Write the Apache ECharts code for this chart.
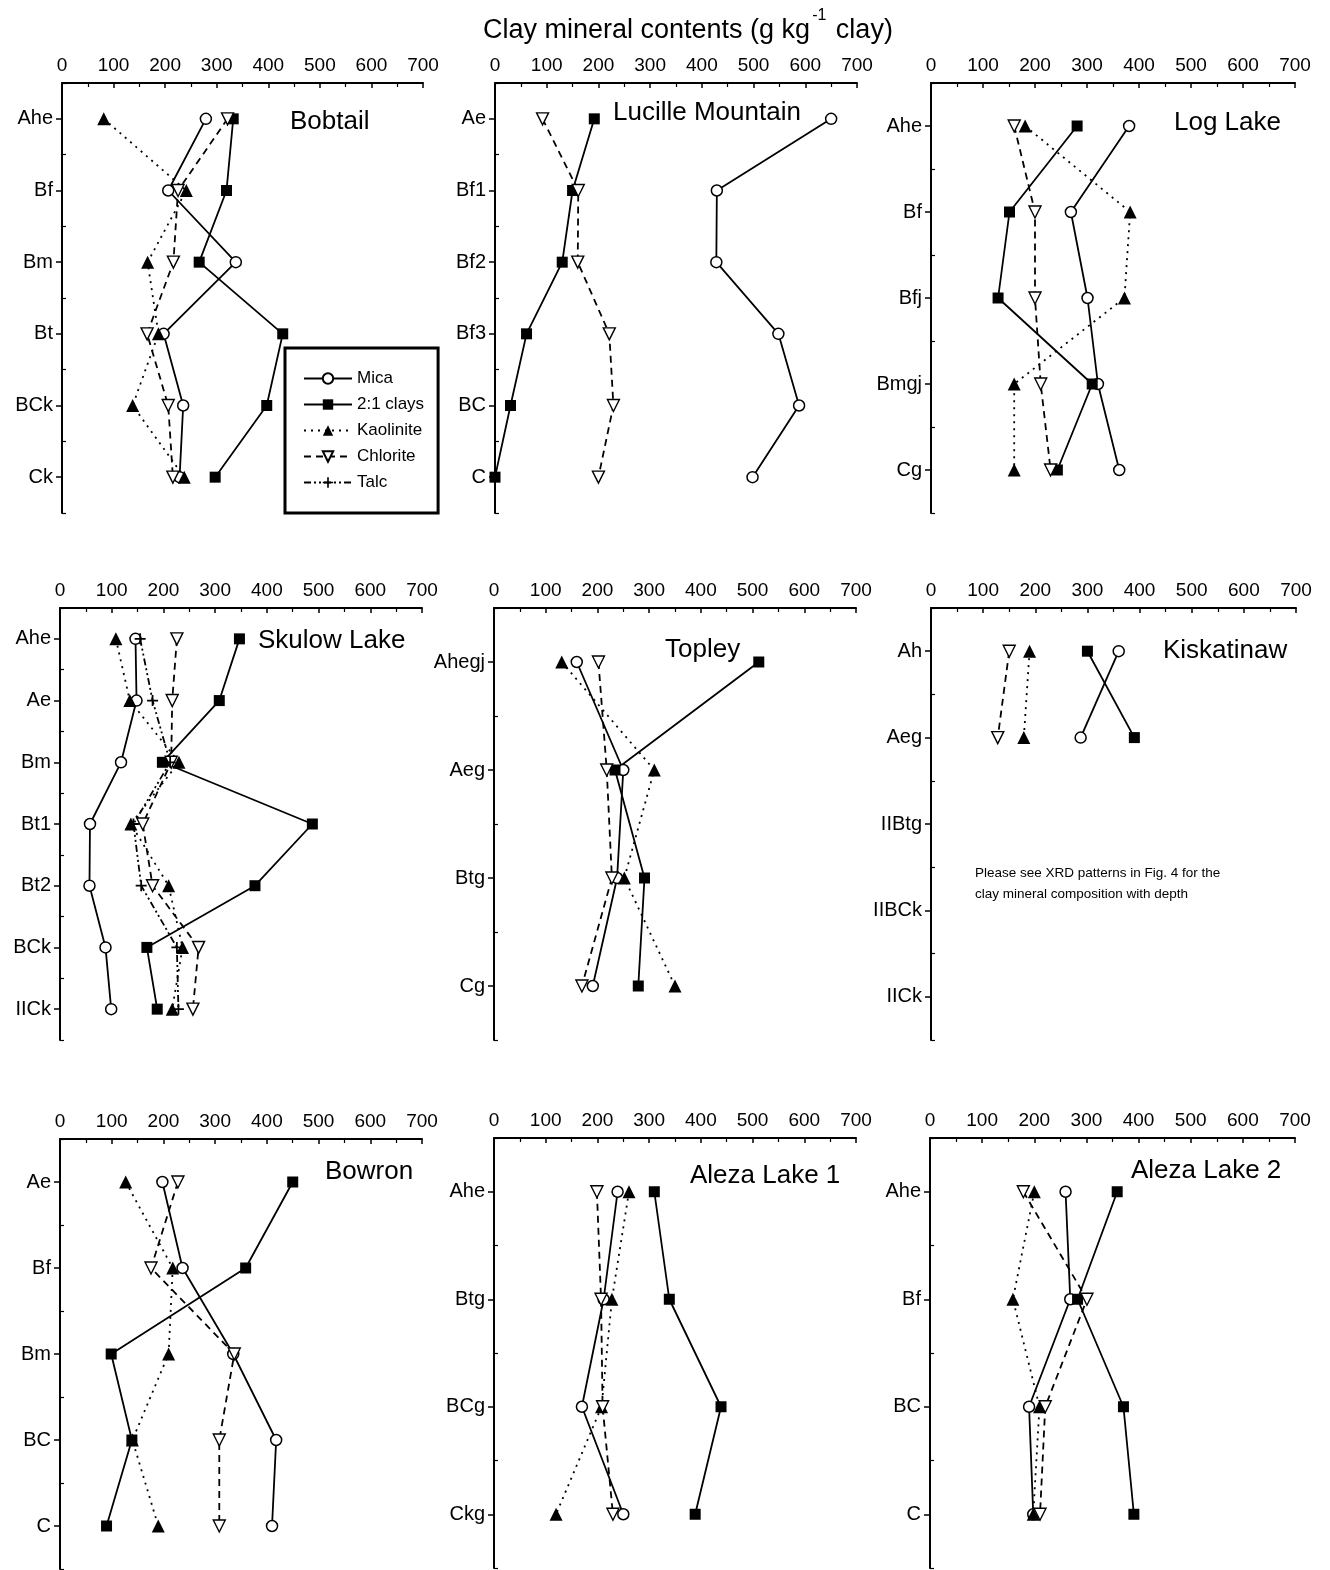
<!DOCTYPE html>
<html>
<head>
<meta charset="utf-8">
<script src="https://cdn.jsdelivr.net/npm/echarts@6/dist/echarts.min.js"></script>
<style>html,body{margin:0;padding:0;background:#fff}#c{width:1330px;height:1570px}</style>
</head>
<body>
<div id="c"></div>
<script>
// ---------- DATA ----------
const mineralNames = ['Mica', '2:1 clays', 'Kaolinite', 'Chlorite', 'Talc'];

const bobtailHorizons = ['Ahe', 'Bf', 'Bm', 'Bt', 'BCk', 'Ck'];
const bobtailMica = [279, 206, 337, 197, 235, 228];
const bobtailClay21 = [332, 319, 266, 428, 397, 297];
const bobtailKaolinite = [81, 241, 166, 187, 137, 237];
const bobtailChlorite = [321, 225, 216, 165, 206, 215];

const lucilleHorizons = ['Ae', 'Bf1', 'Bf2', 'Bf3', 'BC', 'C'];
const lucilleMica = [650, 429, 428, 548, 588, 498];
const lucilleClay21 = [192, 150, 130, 61, 30, 0];
const lucilleChlorite = [92, 161, 160, 221, 229, 200];

const logLakeHorizons = ['Ahe', 'Bf', 'Bfj', 'Bmgj', 'Cg'];
const logLakeMica = [381, 269, 301, 321, 362];
const logLakeClay21 = [281, 151, 129, 310, 243];
const logLakeKaolinite = [181, 383, 372, 160, 160];
const logLakeChlorite = [160, 200, 200, 211, 230];

const skulowHorizons = ['Ahe', 'Ae', 'Bm', 'Bt1', 'Bt2', 'BCk', 'IICk'];
const skulowMica = [146, 148, 118, 58, 57, 88, 99];
const skulowClay21 = [347, 308, 198, 488, 377, 168, 188];
const skulowKaolinite = [108, 135, 230, 137, 210, 237, 217];
const skulowChlorite = [226, 217, 215, 160, 179, 268, 257];
const skulowTalc = [155, 179, 213, 142, 157, 226, 229];

const topleyHorizons = ['Ahegj', 'Aeg', 'Btg', 'Cg'];
const topleyMica = [160, 250, 238, 191];
const topleyClay21 = [512, 234, 291, 279];
const topleyKaolinite = [131, 310, 252, 350];
const topleyChlorite = [202, 218, 228, 170];

const kiskHorizons = ['Ah', 'Aeg', 'IIBtg', 'IIBCk', 'IICk'];
const kiskMica = [360, 287, null, null, null];
const kiskClay21 = [300, 390, null, null, null];
const kiskKaolinite = [189, 178, null, null, null];
const kiskChlorite = [150, 128, null, null, null];

const bowronHorizons = ['Ae', 'Bf', 'Bm', 'BC', 'C'];
const bowronMica = [198, 237, 335, 418, 410];
const bowronClay21 = [450, 359, 99, 139, 90];
const bowronKaolinite = [127, 218, 210, 140, 190];
const bowronChlorite = [228, 176, 337, 308, 308];

const aleza1Horizons = ['Ahe', 'Btg', 'BCg', 'Ckg'];
const aleza1Mica = [239, 212, 170, 250];
const aleza1Clay21 = [310, 339, 439, 389];
const aleza1Kaolinite = [261, 228, 208, 120];
const aleza1Chlorite = [199, 207, 210, 230];

const aleza2Horizons = ['Ahe', 'Bf', 'BC', 'C'];
const aleza2Mica = [260, 269, 190, 198];
const aleza2Clay21 = [359, 283, 371, 391];
const aleza2Kaolinite = [200, 159, 210, 198];
const aleza2Chlorite = [179, 301, 221, 211];

const xMin = 0, xMax = 700, xStep = 100;

// ---------- LAYOUT ----------
const FONT = "'Liberation Sans', Arial, Helvetica, sans-serif";
const panels = [
  {title: 'Bobtail', cats: bobtailHorizons, grid: {left: 62, width: 361, top: 83, height: 430}, tx: 290, ty: 122,
   series: {'Mica': bobtailMica, '2:1 clays': bobtailClay21, 'Kaolinite': bobtailKaolinite, 'Chlorite': bobtailChlorite}},
  {title: 'Lucille Mountain', cats: lucilleHorizons, grid: {left: 495, width: 362, top: 83, height: 430}, tx: 613, ty: 113,
   series: {'Mica': lucilleMica, '2:1 clays': lucilleClay21, 'Chlorite': lucilleChlorite}},
  {title: 'Log Lake', cats: logLakeHorizons, grid: {left: 931, width: 364, top: 83, height: 430}, tx: 1174, ty: 123,
   series: {'Mica': logLakeMica, '2:1 clays': logLakeClay21, 'Kaolinite': logLakeKaolinite, 'Chlorite': logLakeChlorite}},
  {title: 'Skulow Lake', cats: skulowHorizons, grid: {left: 60, width: 362, top: 608, height: 432}, tx: 258, ty: 641,
   series: {'Mica': skulowMica, '2:1 clays': skulowClay21, 'Kaolinite': skulowKaolinite, 'Chlorite': skulowChlorite, 'Talc': skulowTalc}},
  {title: 'Topley', cats: topleyHorizons, grid: {left: 494, width: 362, top: 608, height: 432}, tx: 665, ty: 650,
   series: {'Mica': topleyMica, '2:1 clays': topleyClay21, 'Kaolinite': topleyKaolinite, 'Chlorite': topleyChlorite}},
  {title: 'Kiskatinaw', cats: kiskHorizons, grid: {left: 931, width: 365, top: 608, height: 432}, tx: 1163, ty: 651,
   series: {'Mica': kiskMica, '2:1 clays': kiskClay21, 'Kaolinite': kiskKaolinite, 'Chlorite': kiskChlorite}},
  {title: 'Bowron', cats: bowronHorizons, grid: {left: 60, width: 362, top: 1139, height: 430}, tx: 325, ty: 1172,
   series: {'Mica': bowronMica, '2:1 clays': bowronClay21, 'Kaolinite': bowronKaolinite, 'Chlorite': bowronChlorite}},
  {title: 'Aleza Lake 1', cats: aleza1Horizons, grid: {left: 494, width: 362, top: 1138, height: 430}, tx: 690, ty: 1176,
   series: {'Mica': aleza1Mica, '2:1 clays': aleza1Clay21, 'Kaolinite': aleza1Kaolinite, 'Chlorite': aleza1Chlorite}},
  {title: 'Aleza Lake 2', cats: aleza2Horizons, grid: {left: 930, width: 365, top: 1138, height: 430}, tx: 1131, ty: 1171,
   series: {'Mica': aleza2Mica, '2:1 clays': aleza2Clay21, 'Kaolinite': aleza2Kaolinite, 'Chlorite': aleza2Chlorite}}
];

const plusPath = 'path://M4.2,0h1.6v4.2h4.2v1.6h-4.2v4.2h-1.6v-4.2h-4.2v-1.6h4.2z';
const styles = {
  'Mica': {symbol: 'circle', symbolSize: 11, line: {type: 'solid'}, item: {color: '#fff', borderColor: '#000', borderWidth: 1.5}},
  '2:1 clays': {symbol: 'rect', symbolSize: 11, line: {type: 'solid'}, item: {color: '#000', borderColor: '#000', borderWidth: 0}},
  'Kaolinite': {symbol: 'triangle', symbolSize: 13, line: {type: [2, 5]}, item: {color: '#000', borderColor: '#000', borderWidth: 0}},
  'Chlorite': {symbol: 'triangle', symbolRotate: 180, symbolSize: 12, line: {type: [7, 5]}, item: {color: '#fff', borderColor: '#000', borderWidth: 1.4}},
  'Talc': {symbol: plusPath, symbolSize: 11, line: {type: [7, 3, 2, 3, 2, 3]}, item: {color: '#000', borderColor: '#000', borderWidth: 0}}
};

const grids = [], xAxes = [], yAxes = [], series = [], graphics = [];
panels.forEach((p, i) => {
  grids.push(Object.assign({containLabel: false}, p.grid));
  xAxes.push({
    type: 'value', gridIndex: i, position: 'top', min: xMin, max: xMax, interval: xStep,
    splitLine: {show: false},
    axisLine: {show: true, lineStyle: {color: '#000', width: 2}},
    axisTick: {show: true, inside: true, length: 5, lineStyle: {color: '#000', width: 1.5}},
    minorTick: {show: true, splitNumber: 2, length: 4, lineStyle: {color: '#000', width: 1.2}},
    axisLabel: {color: '#000', fontSize: 19, fontFamily: FONT, margin: 8}
  });
  yAxes.push({
    type: 'category', gridIndex: i, data: p.cats, inverse: true, position: 'left',
    axisLine: {show: true, lineStyle: {color: '#000', width: 2}},
    axisTick: {show: true, alignWithLabel: true, length: 6, lineStyle: {color: '#000', width: 1.5}},
    axisLabel: {color: '#000', fontSize: 20, fontFamily: FONT, margin: 9},
    splitLine: {show: false}
  });
  yAxes.push({
    type: 'category', gridIndex: i, data: p.cats, inverse: true, position: 'left',
    axisLine: {show: false},
    axisTick: {show: true, inside: true, length: 4, lineStyle: {color: '#000', width: 1.2}},
    axisLabel: {show: false},
    splitLine: {show: false}
  });
  Object.keys(p.series).forEach(name => {
    const s = styles[name];
    series.push({
      name: name, type: 'line', xAxisIndex: i, yAxisIndex: 2 * i,
      data: p.series[name], clip: false, connectNulls: false,
      symbol: s.symbol, symbolSize: s.symbolSize, symbolRotate: s.symbolRotate || 0,
      showAllSymbol: true, animation: false,
      lineStyle: {color: '#000', width: 1.8, type: s.line.type},
      itemStyle: s.item,
      emphasis: {disabled: true}
    });
  });
  graphics.push({
    type: 'text', x: p.tx, y: p.ty,
    style: {text: p.title, font: '26px ' + FONT, fill: '#000', textAlign: 'left', textVerticalAlign: 'middle'}
  });
});

graphics.push({
  type: 'text', x: 975, y: 873,
  style: {text: 'Please see XRD patterns in Fig. 4 for the', font: '13.5px ' + FONT, fill: '#000', textVerticalAlign: 'middle'}
});
graphics.push({
  type: 'text', x: 975, y: 894,
  style: {text: 'clay mineral composition with depth', font: '13.5px ' + FONT, fill: '#000', textVerticalAlign: 'middle'}
});

const chart = echarts.init(document.getElementById('c'), null, {renderer: 'canvas'});
chart.setOption({
  backgroundColor: '#fff',
  animation: false,
  title: {
    text: '{m|Clay mineral contents (g kg}{s|-1}{m| clay)}',
    left: 478, top: 3,
    textStyle: {
      fontWeight: 'normal',
      rich: {
        m: {fontSize: 27, fontFamily: FONT, fontWeight: 'normal', color: '#000', lineHeight: 36, verticalAlign: 'bottom'},
        s: {fontSize: 16, fontFamily: FONT, fontWeight: 'normal', color: '#000', lineHeight: 36, verticalAlign: 'top', padding: [0, 2, 0, 2]}
      }
    }
  },
  legend: {
    data: mineralNames, orient: 'vertical', left: 285, top: 348,
    borderColor: '#000', borderWidth: 3, padding: [22, 14, 22, 18],
    itemWidth: 48, itemHeight: 13, itemGap: 9, selectedMode: false,
    textStyle: {color: '#000', fontSize: 17, fontFamily: FONT}
  },
  grid: grids, xAxis: xAxes, yAxis: yAxes, series: series, graphic: graphics
});
</script>
</body>
</html>
